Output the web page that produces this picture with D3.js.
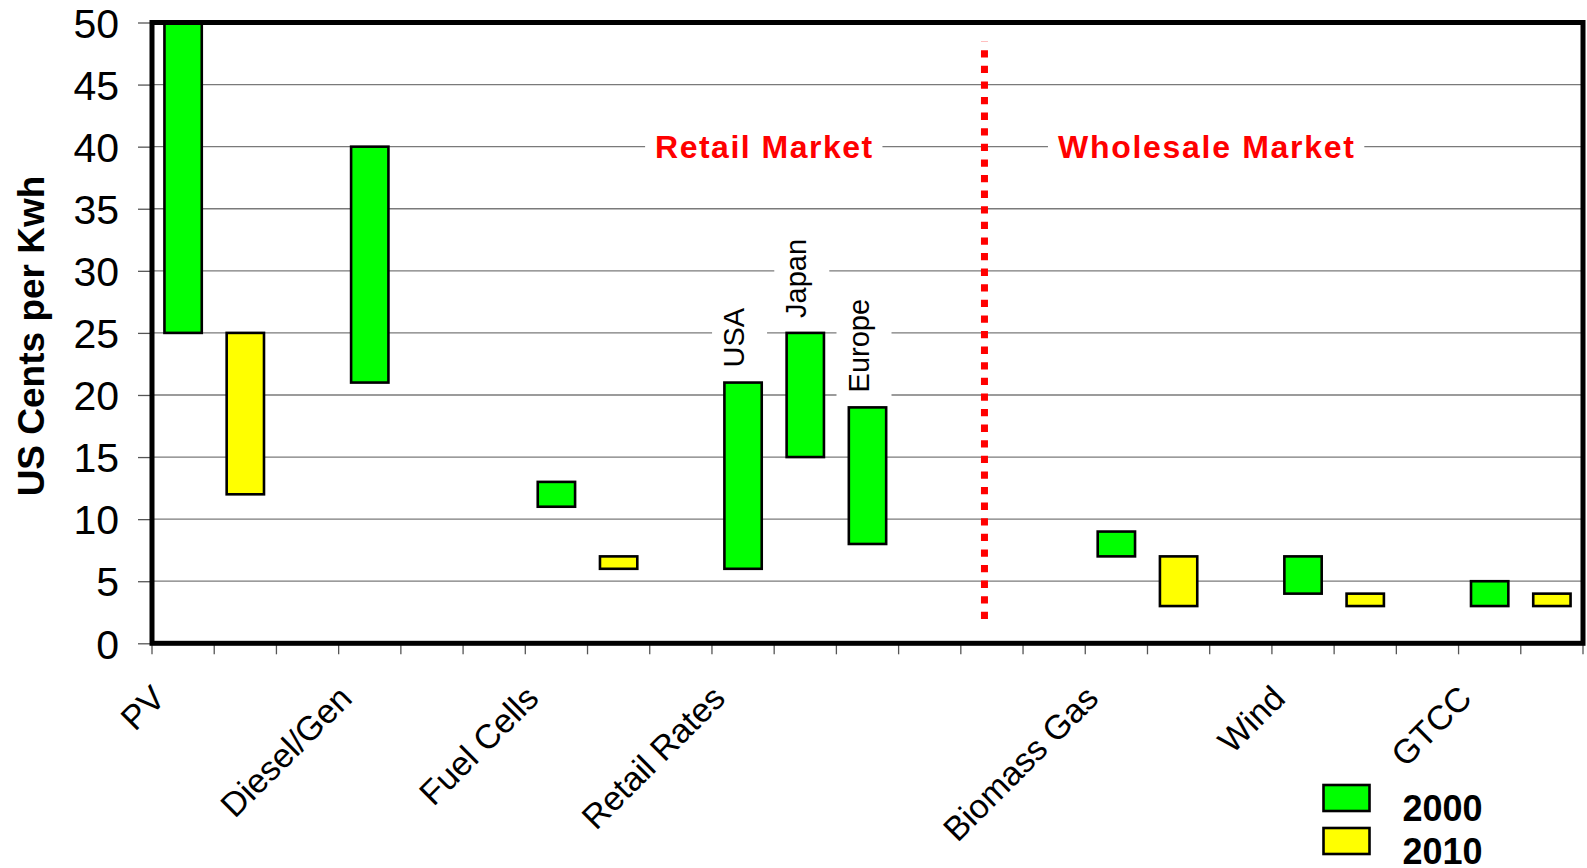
<!DOCTYPE html>
<html>
<head>
<meta charset="utf-8">
<script src="https://cdn.jsdelivr.net/npm/d3@7"></script>
<style>
  html, body { margin: 0; padding: 0; background: #fff; }
  svg { display: block; font-family: "Liberation Sans", Arial, sans-serif; }
</style>
</head>
<body>
<svg id="chart" width="1587" height="868"></svg>
<script>
// Category slots along the x axis (23 slots, labels only on the first slot of each group)
const slotLabels = ["PV", "", "", "Diesel/Gen", "", "", "Fuel Cells", "", "", "Retail Rates", "", "", "", "", "",
                    "Biomass Gas", "", "", "Wind", "", "", "GTCC", ""];

// Cost ranges (US cents per kWh): one floating bar per entry
const barSlot  = [0, 1, 3, 6, 7, 9, 10, 11, 15, 16, 18, 19, 21, 22];
const barYear  = ["2000", "2010", "2000", "2000", "2010", "2000", "2000", "2000", "2000", "2010", "2000", "2010", "2000", "2010"];
const barLow   = [25, 12, 21, 11, 6, 6, 15, 8, 7, 3, 4, 3, 3, 3];
const barHigh  = [50, 25, 40, 13, 7, 21, 25, 19, 9, 7, 7, 4, 5, 4];

// Retail rate regions shown above their bars
const regionNames = ["USA", "Japan", "Europe"];
const regionSlot  = [9, 10, 11];
const regionTop   = [21, 25, 19];

// Market headings and the divider between them (in slot units / cents)
const marketNames = ["Retail Market", "Wholesale Market"];
const marketPos   = [9.83, 16.94];
const marketWidth = [217, 296];
const marketLevel = 40;
const dividerPos  = 13.38;
const dividerSpan = [1.95, 48.45];

const yTicks = [0, 5, 10, 15, 20, 25, 30, 35, 40, 45, 50];
const gridValues = [5, 10, 15, 20, 25, 30, 35, 40, 45];
const legendYears = ["2000", "2010"];
const yearColor = { "2000": "#00ff00", "2010": "#ffff00" };

const plotLeft = 152, plotRight = 1583, plotTop = 22.5, plotBottom = 643.3;

const svg = d3.select("#chart");
const x = d3.scaleLinear().domain([0, slotLabels.length]).range([plotLeft, plotRight]);
const y = d3.scaleLinear().domain([0, 50]).range([plotBottom, plotTop]);
const step = x(1) - x(0);

// Horizontal gridlines
svg.append("g").selectAll("line").data(gridValues).join("line")
  .attr("x1", plotLeft).attr("x2", plotRight)
  .attr("y1", d => y(d)).attr("y2", d => y(d))
  .attr("stroke", "#7a7a7a").attr("stroke-width", 1.3);

// Y axis ticks and labels
const yAxis = d3.axisLeft(y).tickValues(yTicks).tickSize(14).tickPadding(19);
const yg = svg.append("g").attr("transform", `translate(${plotLeft},0)`).call(yAxis);
yg.select(".domain").remove();
yg.selectAll(".tick line").attr("stroke", "#555").attr("stroke-width", 1.3);
yg.selectAll(".tick text")
  .attr("font-size", 41).attr("fill", "#000")
  .attr("font-family", "'Liberation Sans', Arial, sans-serif")
  .attr("dy", "0.36em");

// X axis ticks at slot boundaries
svg.append("g").selectAll("line").data(d3.range(slotLabels.length + 1)).join("line")
  .attr("x1", d => x(d)).attr("x2", d => x(d))
  .attr("y1", plotBottom).attr("y2", plotBottom + 11)
  .attr("stroke", "#555").attr("stroke-width", 1.3);

// Category labels, rotated
svg.append("g").selectAll("text")
  .data(slotLabels.map((t, i) => ({ t, i })).filter(d => d.t))
  .join("text")
  .attr("transform", d => `translate(${x(d.i + 0.5) - 16},${plotBottom + 57}) rotate(-45)`)
  .attr("text-anchor", "end")
  .attr("font-size", 34)
  .attr("fill", "#000")
  .text(d => d.t);

// Y axis title
svg.append("text")
  .attr("transform", `translate(43.5,${336}) rotate(-90)`)
  .attr("text-anchor", "middle")
  .attr("font-size", 37).attr("font-weight", "bold")
  .text("US Cents per Kwh");

// Market headings on white backing that interrupts the gridline
const markets = svg.append("g");
marketNames.forEach((name, i) => {
  const g = markets.append("g");
  const bg = g.append("rect").attr("fill", "#fff");
  const t = g.append("text")
    .attr("x", x(marketPos[i])).attr("y", y(marketLevel) + 11)
    .attr("text-anchor", "middle")
    .attr("font-size", 32).attr("font-weight", "bold").attr("fill", "#ff0000")
    .attr("textLength", marketWidth[i])
    .attr("lengthAdjust", "spacing")
    .text(name);
  const b = t.node().getBBox();
  bg.attr("x", b.x - 10).attr("y", b.y).attr("width", b.width + 20).attr("height", b.height);
});

// Region labels (vertical) on white backing
const regions = svg.append("g");
regionNames.forEach((name, i) => {
  const g = regions.append("g");
  const bg = g.append("rect").attr("fill", "#fff");
  const cx = x(regionSlot[i] + 0.5) + 1;
  const t = g.append("text")
    .attr("transform", `translate(${cx},${y(regionTop[i]) - 15}) rotate(-90)`)
    .attr("font-size", 29).attr("fill", "#000")
    .text(name);
  const b = t.node().getBoundingClientRect();
  const s = svg.node().getBoundingClientRect();
  bg.attr("x", cx - 32).attr("y", b.top - s.top - 8)
    .attr("width", 55).attr("height", b.height + 16);
});

// Floating range bars
svg.append("g").selectAll("rect").data(barSlot.map((s, i) => i)).join("rect")
  .attr("x", i => x(barSlot[i]) + step * 0.2)
  .attr("width", step * 0.6)
  .attr("y", i => y(barHigh[i]))
  .attr("height", i => y(barLow[i]) - y(barHigh[i]))
  .attr("fill", i => yearColor[barYear[i]])
  .attr("stroke", "#000").attr("stroke-width", 2.6);

// Divider between retail and wholesale markets
svg.append("line")
  .attr("x1", x(dividerPos)).attr("x2", x(dividerPos))
  .attr("y1", y(dividerSpan[0])).attr("y2", y(dividerSpan[1]))
  .attr("stroke", "#ff0000").attr("stroke-width", 7)
  .attr("stroke-dasharray", "7.3 8.3");

// Plot frame
svg.append("rect")
  .attr("x", plotLeft).attr("y", plotTop)
  .attr("width", plotRight - plotLeft).attr("height", plotBottom - plotTop)
  .attr("fill", "none").attr("stroke", "#000").attr("stroke-width", 5);

// Legend
const legend = svg.append("g").selectAll("g").data(legendYears).join("g")
  .attr("transform", (d, i) => `translate(1323.5,${785 + i * 43})`);
legend.append("rect")
  .attr("width", 46).attr("height", 26)
  .attr("fill", d => yearColor[d])
  .attr("stroke", "#000").attr("stroke-width", 2.6);
legend.append("text")
  .attr("x", 79).attr("y", 36)
  .attr("font-size", 36).attr("font-weight", "bold")
  .text(d => d);
</script>
</body>
</html>
